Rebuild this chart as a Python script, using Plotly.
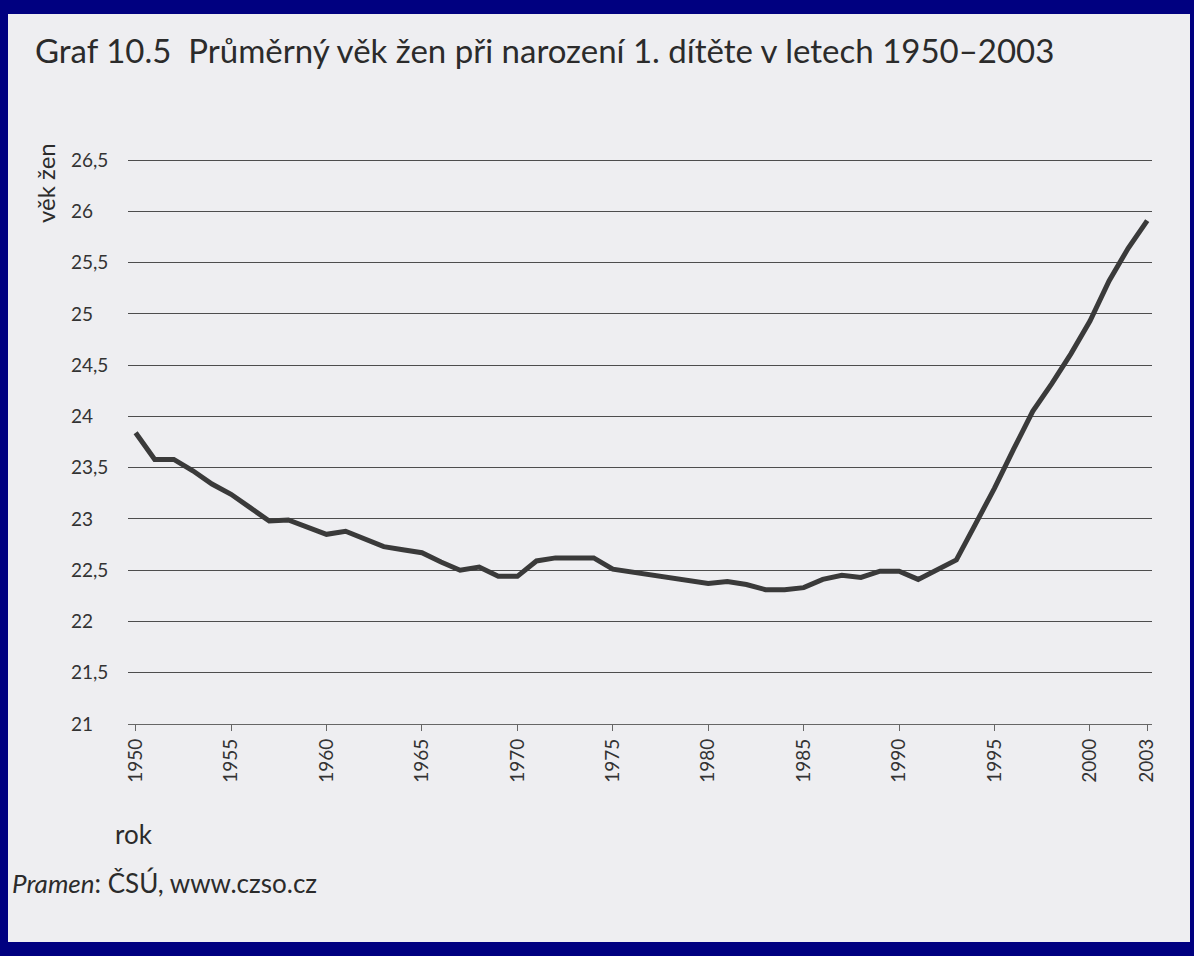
import plotly.graph_objects as go

years = list(range(1950, 2004))
age = [23.84, 23.58, 23.58, 23.47, 23.34, 23.24, 23.11, 22.98, 22.99, 22.92,
       22.85, 22.88, 22.80, 22.73, 22.70, 22.67, 22.58, 22.50, 22.53, 22.44,
       22.44, 22.59, 22.62, 22.62, 22.62, 22.51, 22.48, 22.46, 22.43, 22.40,
       22.37, 22.39, 22.36, 22.31, 22.31, 22.33, 22.41, 22.45, 22.43, 22.49,
       22.49, 22.41, 22.51, 22.60, 22.95, 23.30, 23.68, 24.05, 24.32, 24.61,
       24.93, 25.32, 25.64, 25.91]

x_ticks = [1950, 1955, 1960, 1965, 1970, 1975, 1980, 1985, 1990, 1995, 2000, 2003]
y_ticks = [21, 21.5, 22, 22.5, 23, 23.5, 24, 24.5, 25, 25.5, 26, 26.5]
y_tick_labels = ["21", "21,5", "22", "22,5", "23", "23,5", "24", "24,5", "25", "25,5", "26", "26,5"]

W, H = 1194, 956
L, R, T, B = 40, 42, 158, 232
PW, PH = W - L - R, H - T - B


def px(x):
    return (x - L) / PW


def py(y):
    return 1 - (y - T) / PH


FONT = "Lato"
INK = "#2b2b2b"

fig = go.Figure()
fig.add_trace(go.Scatter(x=years, y=age, mode="lines",
                         line=dict(color="#3a3a3a", width=5),
                         hoverinfo="x+y", showlegend=False))

fig.update_layout(
    width=W, height=H,
    margin=dict(l=L, r=R, t=T, b=B),
    paper_bgcolor="#000080",
    plot_bgcolor="rgba(0,0,0,0)",
    font=dict(family=FONT, color=INK),
    xaxis=dict(domain=[px(128), 1], range=[1949.6, 2003.25],
               tickvals=x_ticks, tickangle=-90,
               tickfont=dict(size=19, color="#333"),
               showgrid=False, zeroline=False,
               showline=True, linecolor="#666", linewidth=1.3,
               ticks="outside", ticklen=6, tickcolor="#666"),
    yaxis=dict(range=[21, 26.52], tickvals=y_ticks, ticktext=y_tick_labels,
               side="right", anchor="free", position=px(70),
               tickfont=dict(size=19, color="#333"),
               showgrid=True, gridcolor="#4d4d4d", gridwidth=1.2,
               zeroline=False, showline=False, ticks=""),
    shapes=[dict(type="rect", xref="paper", yref="paper",
                 x0=px(8), x1=px(1190), y0=py(942), y1=py(14),
                 fillcolor="#eeeef1", line=dict(width=0), layer="below")],
    annotations=[
        dict(text="Graf 10.5  Průměrný věk žen při narození 1. dítěte v letech 1950–2003",
             x=px(33), y=py(50), xref="paper", yref="paper",
             xanchor="left", yanchor="middle", showarrow=False,
             font=dict(size=33, color=INK)),
        dict(text="věk žen", textangle=-90,
             x=px(45), y=py(183), xref="paper", yref="paper",
             xanchor="center", yanchor="middle", showarrow=False,
             font=dict(size=24, color=INK)),
        dict(text="rok", x=px(113), y=py(834), xref="paper", yref="paper",
             xanchor="left", yanchor="middle", showarrow=False,
             font=dict(size=26, color=INK)),
        dict(text="<i>Pramen</i>: ČSÚ, www.czso.cz", x=px(10), y=py(883),
             xref="paper", yref="paper", xanchor="left", yanchor="middle",
             showarrow=False, font=dict(size=26, color=INK)),
    ],
)

# drop the default 8px body margin so the frame fills the window
fig.write_html("out.html", config={"displayModeBar": False},
               post_script="document.body.style.margin='0';"
                           "document.body.style.background='#000080';")
